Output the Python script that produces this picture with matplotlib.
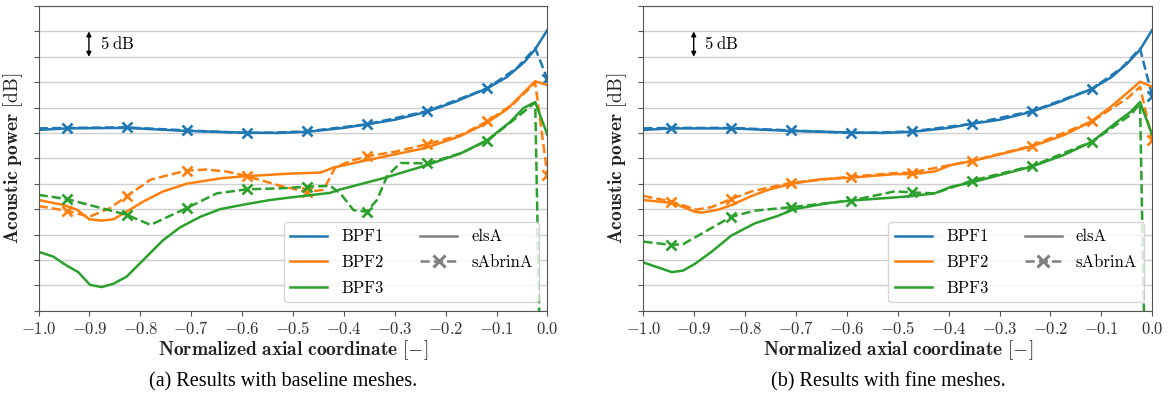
import numpy as np
import matplotlib.pyplot as plt
from matplotlib.lines import Line2D

plt.rcParams['mathtext.fontset'] = 'cm'

# x positions of the sAbrinA markers
mark_x = [-0.945, -0.827, -0.709, -0.591, -0.473, -0.355, -0.236, -0.118, 0.0]

# (a) baseline meshes
b1_el_x = [-1.0, -0.945, -0.827, -0.709, -0.591, -0.53, -0.47, -0.4, -0.355, -0.3, -0.236, -0.18, -0.118, -0.08, -0.045, -0.024, 0.0]
b1_el_y = [35.6, 35.9, 36.0, 35.4, 35.05, 35.0, 35.25, 36.0, 36.7, 37.6, 39.2, 41.2, 43.8, 46.0, 49.0, 51.5, 55.3]
b1_sa_x = [-1.0, -0.945, -0.827, -0.709, -0.591, -0.53, -0.473, -0.355, -0.236, -0.118, -0.06, -0.024, 0.0]
b1_sa_y = [35.9, 36.0, 36.1, 35.5, 35.0, 35.1, 35.3, 36.7, 39.3, 43.8, 47.8, 51.7, 45.6]

b2_el_x = [-1.0, -0.95, -0.925, -0.9, -0.876, -0.853, -0.827, -0.794, -0.755, -0.709, -0.64, -0.591, -0.505, -0.446, -0.42, -0.361, -0.237, -0.171, -0.119, -0.079, -0.04, -0.024, 0.0]
b2_el_y = [21.8, 20.8, 19.9, 18.0, 17.75, 18.0, 19.5, 21.5, 23.5, 25.0, 26.1, 26.5, 27.0, 27.2, 28.2, 29.5, 32.1, 34.4, 37.0, 39.7, 43.6, 45.2, 44.4]
b2_sa_x = [-1.0, -0.945, -0.9, -0.86, -0.827, -0.78, -0.709, -0.67, -0.63, -0.591, -0.525, -0.473, -0.44, -0.417, -0.387, -0.355, -0.3, -0.236, -0.17, -0.118, -0.066, -0.024, 0.0]
b2_sa_y = [20.6, 19.7, 18.5, 20.2, 22.5, 25.8, 27.6, 27.8, 27.4, 26.5, 24.6, 23.4, 23.8, 28.2, 29.5, 30.4, 31.3, 32.8, 34.6, 37.3, 40.8, 44.9, 26.7]

b3_el_x = [-1.0, -0.971, -0.945, -0.922, -0.899, -0.876, -0.853, -0.827, -0.794, -0.755, -0.722, -0.682, -0.643, -0.591, -0.545, -0.505, -0.427, -0.41, -0.322, -0.236, -0.17, -0.118, -0.073, -0.047, -0.024, 0.0]
b3_el_y = [11.6, 10.65, 8.9, 7.6, 5.1, 4.65, 5.3, 6.7, 10.0, 13.9, 16.4, 18.5, 20.0, 21.0, 21.8, 22.3, 23.2, 23.8, 26.1, 28.7, 31.0, 33.6, 37.2, 39.9, 41.1, 34.6]
b3_sa_x = [-1.0, -0.945, -0.827, -0.78, -0.709, -0.65, -0.591, -0.525, -0.473, -0.427, -0.407, -0.381, -0.355, -0.335, -0.315, -0.289, -0.236, -0.17, -0.118, -0.066, -0.024, 0.0]
b3_sa_y = [22.8, 22.0, 18.9, 16.9, 20.2, 23.1, 23.9, 24.1, 24.4, 24.6, 23.1, 19.8, 19.5, 21.8, 26.5, 29.1, 29.0, 31.0, 33.5, 37.6, 41.0, -87.0]

# (b) fine meshes
f1_el_x = [-1.0, -0.945, -0.827, -0.709, -0.591, -0.53, -0.47, -0.4, -0.355, -0.3, -0.236, -0.18, -0.118, -0.08, -0.048, -0.024, 0.0]
f1_el_y = [35.6, 35.9, 35.9, 35.4, 35.1, 35.0, 35.25, 36.0, 36.8, 37.6, 39.2, 41.2, 43.7, 46.0, 48.8, 51.4, 55.3]
f1_sa_x = [-1.0, -0.945, -0.827, -0.709, -0.591, -0.53, -0.473, -0.355, -0.236, -0.118, -0.06, -0.024, 0.0]
f1_sa_y = [35.9, 36.0, 36.0, 35.5, 35.0, 35.1, 35.3, 36.8, 39.3, 43.7, 47.8, 51.6, 42.3]

f2_el_x = [-1.0, -0.941, -0.899, -0.885, -0.853, -0.827, -0.787, -0.755, -0.709, -0.65, -0.591, -0.506, -0.471, -0.428, -0.395, -0.356, -0.238, -0.173, -0.121, -0.082, -0.042, -0.024, 0.0]
f2_el_y = [21.8, 21.2, 19.5, 19.3, 19.9, 20.8, 22.6, 23.8, 25.0, 25.9, 26.2, 26.9, 26.9, 27.4, 28.7, 29.4, 32.3, 34.6, 37.2, 40.1, 43.5, 45.1, 44.1]
f2_sa_x = [-1.0, -0.945, -0.896, -0.866, -0.827, -0.787, -0.709, -0.591, -0.506, -0.473, -0.355, -0.236, -0.118, -0.048, -0.024, 0.0]
f2_sa_y = [22.6, 21.5, 19.9, 20.4, 22.0, 23.5, 25.2, 26.4, 27.1, 27.2, 29.5, 32.5, 37.3, 41.9, 44.1, 33.6]

f3_el_x = [-1.0, -0.944, -0.922, -0.899, -0.866, -0.827, -0.781, -0.735, -0.703, -0.637, -0.591, -0.506, -0.471, -0.428, -0.395, -0.353, -0.236, -0.173, -0.118, -0.069, -0.042, -0.024, 0.0]
f3_el_y = [9.5, 7.6, 7.9, 9.2, 11.6, 14.8, 17.2, 18.7, 20.0, 21.2, 21.7, 22.3, 22.6, 23.1, 24.4, 25.3, 28.4, 30.7, 33.3, 37.2, 39.2, 41.1, 34.6]
f3_sa_x = [-1.0, -0.945, -0.922, -0.885, -0.827, -0.781, -0.709, -0.591, -0.506, -0.473, -0.428, -0.355, -0.236, -0.118, -0.042, -0.024, 0.0]
f3_sa_y = [13.6, 12.95, 13.1, 15.2, 18.5, 19.7, 20.4, 21.7, 23.5, 23.3, 23.1, 25.6, 28.5, 33.3, 38.6, 40.8, -87.0]

colors = ['#1f77b4', '#ff7f0e', '#2ca02c']
xticks = [-1.0, -0.9, -0.8, -0.7, -0.6, -0.5, -0.4, -0.3, -0.2, -0.1, 0.0]
series_names = ['BPF1', 'BPF2', 'BPF3']
solver_names = ['elsA', 'sAbrinA']

panels = [
    ([(b1_el_x, b1_el_y, b1_sa_x, b1_sa_y), (b2_el_x, b2_el_y, b2_sa_x, b2_sa_y), (b3_el_x, b3_el_y, b3_sa_x, b3_sa_y)],
     '(a) Results with baseline meshes.', 0.033, 0.242),
    ([(f1_el_x, f1_el_y, f1_sa_x, f1_sa_y), (f2_el_x, f2_el_y, f2_sa_x, f2_sa_y), (f3_el_x, f3_el_y, f3_sa_x, f3_sa_y)],
     '(b) Results with fine meshes.', 0.5508, 0.761),
]

fig = plt.figure(figsize=(11.68, 3.96), dpi=100)

for series, caption, left, capx in panels:
    ax = fig.add_axes([left, 0.2154, 0.4357, 0.7694])
    for c, (ex, ey, sx, sy) in zip(colors, series):
        ax.plot(ex, ey, '-', color=c, lw=1.8)
        me = [i for i, v in enumerate(sx) if np.min(np.abs(np.array(mark_x) - v)) < 0.004]
        ax.plot(sx, sy, '--', color=c, lw=1.8, marker='x', ms=7.5, mew=1.9, markevery=me)
    ax.set_xlim(-1.0, 0.0)
    ax.set_ylim(0, 60)
    ax.set_yticks(np.arange(0, 61, 5))
    ax.set_yticklabels([])
    ax.set_xticks(xticks)
    ax.set_xticklabels([r'$%.1f$' % v for v in xticks], fontsize=12)
    ax.grid(axis='y', color='#cfcfcf', lw=1)
    ax.set_axisbelow(True)
    for s in ax.spines.values():
        s.set_color('#555555')
    ax.tick_params(colors='#555555', labelcolor='#333333', length=3.5)
    ax.tick_params(axis='x', pad=3)
    ax.set_xlabel(r'$\mathbf{Normalized\ axial\ coordinate}\ [-]$', fontsize=14, color='#222222', labelpad=0.5)
    ax.set_ylabel(r'$\mathbf{Acoustic\ power}\ [\mathrm{dB}]$', fontsize=14, color='#222222', labelpad=3)

    # 5 dB scale arrow
    ax.annotate('', xy=(-0.901, 55), xytext=(-0.901, 50),
                arrowprops=dict(arrowstyle='<|-|>', color='k', lw=1, mutation_scale=7, shrinkA=0, shrinkB=0))
    ax.text(-0.88, 52.5, r'$5\;\mathrm{dB}$', fontsize=12, va='center', ha='left')

    handles = [Line2D([], [], color=c, lw=1.8) for c in colors]
    handles += [Line2D([], [], color='gray', lw=1.8),
                Line2D([], [], color='gray', lw=1.8, ls='--', marker='x', ms=9, mew=2.2),
                Line2D([], [], color='none')]
    labels = series_names + solver_names + ['']
    ax.legend(handles, labels, loc='lower right', ncol=2, handlelength=2.2,
              handletextpad=0.85, columnspacing=2.2, labelspacing=0.62,
              prop={'family': 'cmr10', 'size': 12})

    fig.text(capx, 0.036, caption, ha='center', va='center', fontsize=14.5, family='Liberation Serif')

fig.savefig('out.png', dpi=100)
